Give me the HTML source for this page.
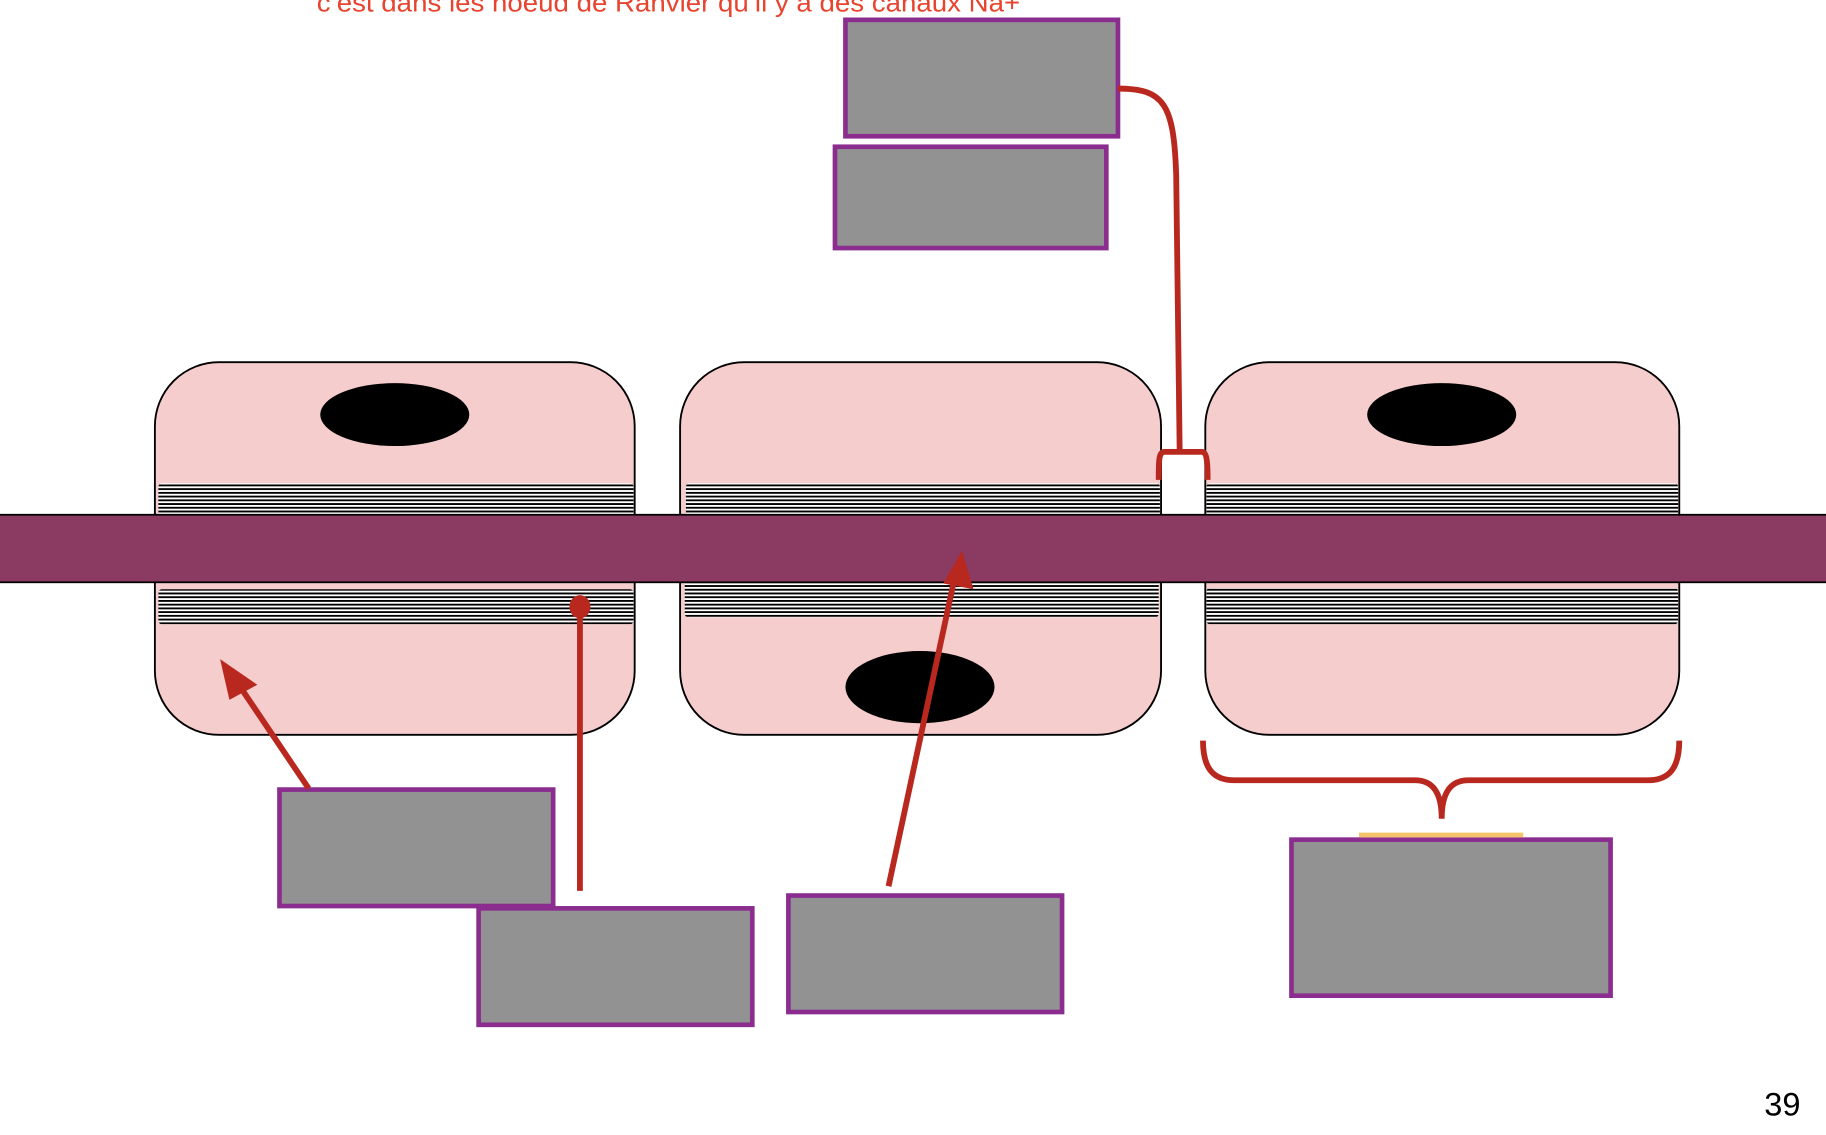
<!DOCTYPE html>
<html><head><meta charset="utf-8"><style>html,body{margin:0;padding:0;background:#fff;overflow:hidden}</style></head>
<body>
<svg width="1826" height="1130" viewBox="0 0 1568 970.3" xmlns="http://www.w3.org/2000/svg">
<defs>
<pattern id="st" width="10" height="3.2" patternUnits="userSpaceOnUse">
<rect width="10" height="3.2" fill="#fff"/><rect width="10" height="1.6" fill="#000"/>
</pattern>
</defs>
<text x="272" y="10" font-family="Liberation Sans, sans-serif" font-size="22" textLength="604" lengthAdjust="spacingAndGlyphs" fill="#e8432f">c’est dans les noeud de Ranvier qu’il y a des canaux Na+</text>
<g stroke="#000" stroke-width="1.6" fill="#f6cdcd">
<rect x="133" y="311" width="412" height="320" rx="55"/>
<rect x="584" y="311" width="413" height="320" rx="55"/>
<rect x="1035" y="311" width="407" height="320" rx="55"/>
</g>
<g fill="url(#st)">
<rect x="136" y="415" width="408" height="28" rx="3"/>
<rect x="589" y="415" width="407" height="28" rx="3"/>
<rect x="1036" y="415" width="405" height="28" rx="3"/>
<rect x="136" y="506" width="408" height="30" rx="3"/>
<rect x="588" y="499" width="407" height="31" rx="3"/>
<rect x="1036" y="505" width="405" height="31" rx="3"/>
</g>
<ellipse cx="339" cy="356" rx="64" ry="27" fill="#000"/>
<ellipse cx="790" cy="590" rx="64" ry="31" fill="#000"/>
<ellipse cx="1238" cy="356" rx="64" ry="27" fill="#000"/>
<rect x="-2" y="442" width="1572" height="58" fill="#8b3a62" stroke="#000" stroke-width="1.5"/>
<g fill="#929292" stroke="#8a2d8f" stroke-width="4">
<rect x="726" y="17" width="234" height="100"/>
<rect x="717" y="126" width="233" height="87"/>
<rect x="240" y="678" width="235" height="100"/>
<rect x="411" y="780" width="235" height="100"/>
<rect x="677" y="769" width="235" height="100"/>
<rect x="1109" y="721" width="274" height="134"/>
</g>
<line x1="1167" y1="717" x2="1308" y2="717" stroke="#f5c46a" stroke-width="4"/>
<g stroke="#b9281e" stroke-width="5" fill="none">
<line x1="265" y1="677" x2="203" y2="585"/>
<line x1="498" y1="765" x2="498" y2="522"/>
<line x1="763" y1="761" x2="820" y2="495"/>
<path d="M960 76 C1000 76 1008 90 1010 150 L1013 388"/>
<path d="M995 412 C995 395 995 388 1000 388 L1032 388 C1036 388 1037 395 1037 412"/>
<path d="M1033 636 C1033 660 1042 670 1060 670 L1215 670 C1230 670 1238 680 1238 703 C1238 680 1246 670 1261 670 L1415 670 C1433 670 1442 660 1442 636"/>
</g>
<g fill="#b9281e">
<polygon points="189,566 221,588 197,601"/>
<ellipse cx="498" cy="521" rx="9" ry="10"/>
<polygon points="826,473 836,506 810,501"/>
</g>
<text x="1515" y="958" font-family="Liberation Sans, sans-serif" font-size="28" fill="#000">39</text>
</svg>
</body></html>
